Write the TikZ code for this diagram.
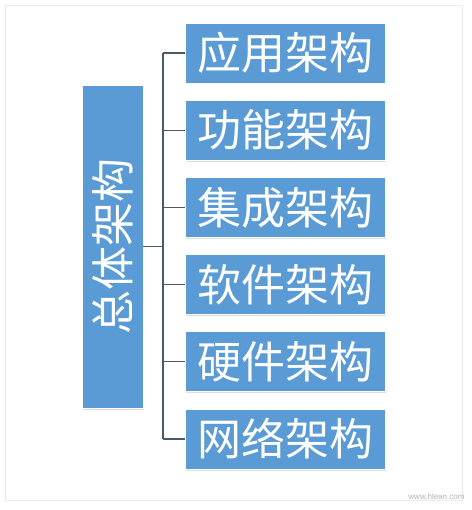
\documentclass[tikz,border=0pt]{standalone}
\usepackage{fontspec}
\newfontfamily\cjk{Noto Sans CJK SC}
\setmainfont{Liberation Sans}
\definecolor{boxblue}{HTML}{5B9BD5}
\definecolor{linegray}{HTML}{4A5A6A}
\definecolor{framegray}{HTML}{EBEBEB}
\usetikzlibrary{shadows}
\tikzset{
  bluebox/.style={draw=white, line width=0.8pt, fill=boxblue, inner sep=0pt,
    text=white, font=\cjk\fontsize{44}{44}\selectfont,
    drop shadow={shadow xshift=1pt, shadow yshift=-1.5pt, fill=black!25}},
  conn/.style={draw=linegray, line width=1.3pt}
}
\begin{document}
\begin{tikzpicture}[x=1pt,y=-1pt]
\useasboundingbox (0,0) rectangle (471,510);
\fill[white] (0,0) rectangle (471,510);
\draw[framegray, line width=0.8pt] (5,5) rectangle (462,500);
\node[bluebox, minimum width=61pt, minimum height=323pt] (main) at (112.5,246.5) {};
\node[rotate=90, text=white, font=\cjk\fontsize{44}{44}\selectfont] (maintext) at (main.center) {总体架构};
\foreach \i/\t in {0/应用架构,1/功能架构,2/集成架构,3/软件架构,4/硬件架构,5/网络架构}{
  \node[bluebox, minimum width=200pt, minimum height=60pt] (b\i) at (285,53+77.2*\i) {\t};
}
\coordinate (jn) at (163,246.5);
\coordinate (top) at (163,53);
\coordinate (bot) at (163,439);
\draw[conn] (main.east) -- (jn);
\draw[conn] (top) -- (bot);
\foreach \i in {0,...,5}{
  \draw[conn] (b\i.west) -- (b\i.west -| jn);
}
\node[text=black!30, font=\fontsize{8}{8}\selectfont, anchor=east] (wm) at (468,497) {www.hlean.com};
\end{tikzpicture}
\end{document}
